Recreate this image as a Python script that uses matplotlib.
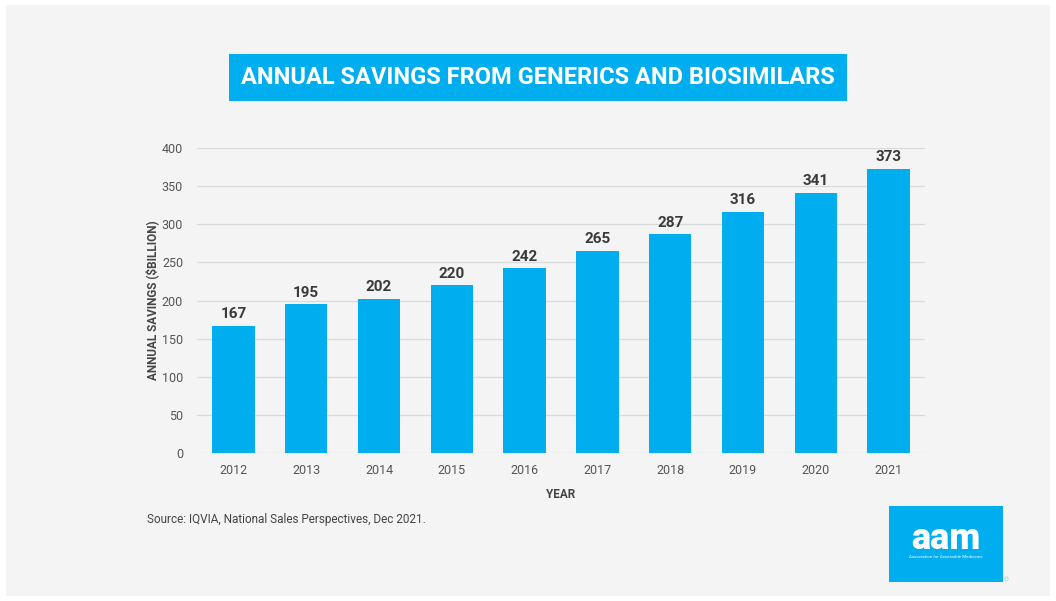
import matplotlib.pyplot as plt
from matplotlib.patches import Rectangle

years = ["2012", "2013", "2014", "2015", "2016", "2017", "2018", "2019", "2020", "2021"]
savings = [167, 195, 202, 220, 242, 265, 287, 316, 341, 373]

BLUE = "#00aeef"
BG = "#f3f4f3"
W, H = 1056, 601

plt.rcParams['font.family'] = ['Roboto', 'DejaVu Sans']

fig = plt.figure(figsize=(W / 100, H / 100), dpi=100)
fig.patch.set_facecolor("white")

# gray card
fig.patches.append(Rectangle((6 / W, 5 / H), (1050 - 6) / W, (596 - 5) / H,
                             transform=fig.transFigure, facecolor=BG,
                             edgecolor="none", zorder=-5))

# title banner
fig.patches.append(Rectangle((229 / W, 1 - 101 / H), (847 - 229) / W, 47 / H,
                             transform=fig.transFigure, facecolor=BLUE,
                             edgecolor="none", zorder=1))
fig.text(538 / W, 1 - 77.5 / H, "ANNUAL SAVINGS FROM GENERICS AND BIOSIMILARS",
         ha="center", va="center", color="white", fontsize=17,
         fontweight="bold", zorder=2)

ax = fig.add_axes([197 / W, 1 - 453 / H, (925 - 197) / W, (453 - 148) / H])
ax.set_zorder(3)
ax.set_facecolor("none")
x = range(len(years))
ax.bar(x, savings, width=0.58, color=BLUE, zorder=3)
for xi, v in zip(x, savings):
    ax.text(xi, v + 6, str(v), ha="center", va="bottom", fontsize=11,
            fontweight="bold", color="#3a3a3a")

ax.set_xlim(-0.5, len(years) - 0.5)
ax.set_ylim(0, 400)
ax.set_yticks(range(0, 401, 50))
ax.set_xticks(list(x))
ax.set_xticklabels(years)
ax.grid(axis="y", color="#d9dbdb", linewidth=0.9, zorder=0)
ax.tick_params(length=0, labelsize=9, labelcolor="#555555")
ax.tick_params(axis="y", pad=10)
ax.tick_params(axis="x", pad=8)
for s in ax.spines.values():
    s.set_visible(False)

ax.set_ylabel("ANNUAL SAVINGS ($BILLION)", fontsize=8.5, fontweight="bold",
              color="#444444", labelpad=2)
ax.set_xlabel("YEAR", fontsize=8.5, fontweight="bold", color="#444444",
              labelpad=8)

fig.text(147 / W, 1 - 519 / H, "Source: IQVIA, National Sales Perspectives, Dec 2021.",
         ha="left", va="center", fontsize=8.5, color="#444444")

# logo
fig.patches.append(Rectangle((889 / W, 1 - 582 / H), (1003 - 889) / W, 76 / H,
                             transform=fig.transFigure, facecolor=BLUE,
                             edgecolor="none", zorder=1))
fig.text(946 / W, 1 - 539 / H, "aam", ha="center", va="center", color="white",
         fontsize=26, fontweight="black", zorder=2)
fig.text(946 / W, 1 - 557 / H, "Association for Accessible Medicines",
         ha="center", va="center", color="white", fontsize=3.2, zorder=2)
fig.text(1006 / W, 1 - 580 / H, "®", ha="center", va="center",
         color="#7fcff0", fontsize=4.5)

fig.savefig("out.png", dpi=100, facecolor=fig.get_facecolor())
